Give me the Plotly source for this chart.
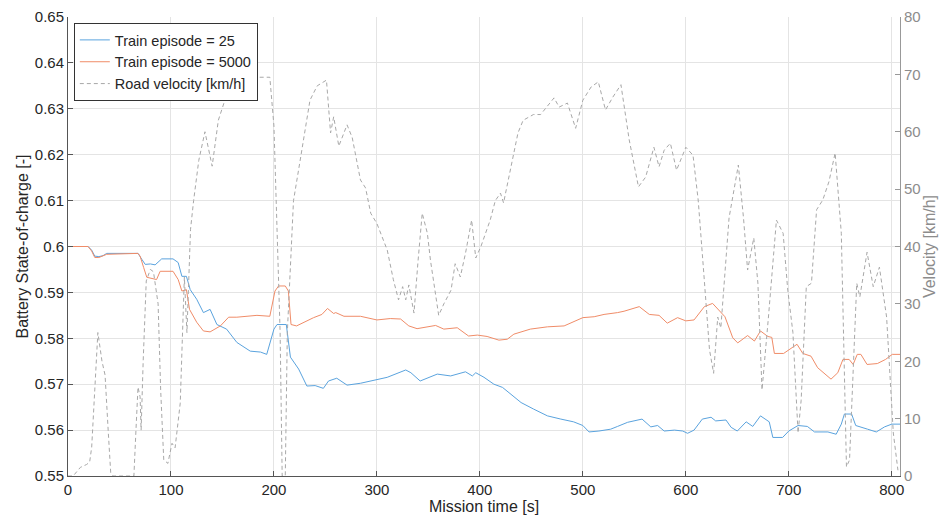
import plotly.graph_objects as go

# ---- data ----
vel_t = [0, 5, 12, 18, 21, 23, 26, 29, 33, 36, 39, 41.5, 44, 64, 66, 68, 70, 71, 73, 76, 80, 83, 87.5, 90, 93, 97, 101, 104,
         109, 113, 115.5, 119, 122, 127, 133, 140, 146, 154.5, 164, 168, 196, 200, 206, 208, 211, 213, 219, 226, 235, 242,
         251, 255, 258, 263, 271, 276, 284, 289, 294, 300, 310, 316, 321, 325, 328, 331, 336, 340, 344, 349, 352, 360, 365,
         372, 376, 381, 386, 392, 396, 401, 410, 415, 420, 423, 430, 437, 442, 452, 459, 472, 477, 485, 493, 500, 508, 515,
         522, 529, 537, 545, 554, 561, 569, 574, 579, 585, 591, 600, 607, 612, 617, 623, 627, 631, 634, 642, 651, 656, 660,
         666, 670, 674, 680, 683, 688, 694.5, 699, 704, 709, 712, 717, 722, 727, 733, 739, 745, 751, 756, 759, 766, 769, 776,
         782, 788, 795, 801.5, 806]
vel_v = [0, 0, 1.5, 2, 2.4, 5, 15, 25, 20, 17.6, 8, 0.5, 0, 0, 8, 15.5, 13.8, 8, 20, 34, 36, 35.6, 30, 15, 2.8, 2.2, 5.7, 4.9,
         12.7, 34.7, 25, 43, 48, 55, 60, 54, 62, 66.7, 69.5, 69.5, 69.5, 61, 25, 0, 0, 25, 48, 55.6, 65.5, 68,
         69, 59.8, 62.6, 57.5, 61.2, 59, 51.6, 50.2, 45.8, 44, 39.4, 34.2, 30.7, 33, 30.7, 33.3, 28.4, 37.6, 45.8, 42.3, 37.6, 28, 30,
         32.4, 37, 34.7, 38.8, 44.6, 38, 40, 44.6, 48, 49.3, 47.6, 53.9, 59.8, 62, 63, 63, 65.9, 64.3, 65, 60.6, 65.5, 67.8, 68.7,
         63.8, 66, 68.2, 58.6, 50.4, 52.1, 57.3, 53.9, 56.8, 58, 53.3, 57.3, 55.9, 48.1, 36.4, 22, 17.9, 27.7, 25.8, 45, 54.2, 45, 35.9,
         41.5, 33.6, 15, 27.2, 33.6, 44.6, 42.3, 32.4, 25, 7.5, 13.2, 33, 33.6, 46.4, 48.1, 51.3, 56.3, 42.3, 1.6, 2.8, 33.6, 31.2, 39,
         33, 36.4, 27.7, 7.5, 1]

ep25_t = [0, 19.5, 23, 26, 30, 34, 37.6, 68, 71.7, 75, 80, 84.6, 91, 102, 107, 110.6, 115, 118.7, 125, 131.5, 138, 144.6, 154,
          164, 177, 187, 193, 200, 203, 212, 216, 224, 232, 240, 248, 253, 261, 271, 284, 300, 310, 328, 333, 342, 358.6, 371.6,
          386, 392.7, 396, 404, 413.6, 422, 433, 440, 452, 465.6, 478.6, 491, 500, 506, 515.6, 527, 533.7, 543.5, 557.5, 566,
          572.6, 579, 589, 597, 601.7, 608, 616, 624.5, 629, 639, 644, 650, 658.6, 665, 672.5, 681, 684.5, 694, 700, 709, 718,
          725, 738, 746, 751, 754, 761, 765, 776.5, 785, 793, 800, 808]
ep25_soc = [0.6, 0.6, 0.5992, 0.5979, 0.5978, 0.598, 0.5985, 0.5985, 0.5972, 0.5961, 0.5962, 0.596, 0.5973, 0.5973, 0.5965,
            0.5935, 0.5935, 0.5906, 0.5885, 0.5856, 0.5863, 0.583, 0.582, 0.5791, 0.5772, 0.577, 0.5765, 0.582, 0.583, 0.583,
            0.5759, 0.5733, 0.5696, 0.5697, 0.5691, 0.5707, 0.5713, 0.5698, 0.5702, 0.5711, 0.5715, 0.5731, 0.5725, 0.5707,
            0.5722, 0.5718, 0.5727, 0.5718, 0.5725, 0.5715, 0.57, 0.5693, 0.5672, 0.566, 0.5646, 0.5631, 0.5624, 0.5618, 0.561,
            0.5596, 0.5598, 0.5602, 0.5608, 0.5617, 0.5624, 0.5607, 0.561, 0.5598, 0.56, 0.5598, 0.5593, 0.56, 0.5624, 0.5628,
            0.562, 0.5622, 0.5606, 0.5598, 0.5618, 0.5608, 0.5631, 0.5618, 0.5584, 0.5584, 0.5598, 0.561, 0.5608, 0.5596,
            0.5596, 0.5591, 0.5613, 0.5635, 0.5635, 0.561, 0.5602, 0.5596, 0.5607, 0.5613, 0.5613]

ep5000_t = [0, 19.5, 23, 26, 30, 34, 37.6, 68, 70, 73.5, 76.5, 86, 89.5, 102, 107, 110.6, 115, 118, 125, 131.5, 138, 148, 156,
            164, 174, 183.5, 196, 201, 204.5, 211, 214, 216.6, 222, 229, 238.5, 246.6, 252, 258, 260, 268, 284, 300, 313, 323,
            331, 339, 357, 365, 378, 389, 397.5, 407, 418.5, 426.6, 433, 449, 465.6, 481.8, 500, 511, 520.6, 533.7, 540, 554.8,
            564.5, 574, 582, 592, 600, 608, 618, 626, 631, 638, 645.6, 650.4, 660, 666.6, 672.5, 679.6, 683.5, 686, 695, 702,
            708, 713.6, 721.6, 728, 735, 741, 747.6, 752.6, 758.6, 762.5, 766.5, 770, 776, 786, 794, 800.5, 808]
ep5000_soc = [0.6, 0.6, 0.599, 0.5976, 0.5976, 0.598, 0.5983, 0.5985, 0.5979, 0.5954, 0.5933, 0.5928, 0.5946, 0.5946, 0.5928,
              0.5903, 0.5906, 0.5863, 0.5835, 0.5816, 0.5814, 0.5827, 0.5846, 0.5846, 0.5848, 0.585, 0.5848, 0.5903, 0.5914,
              0.5914, 0.5903, 0.583, 0.5827, 0.5835, 0.5845, 0.5852, 0.5865, 0.5854, 0.5856, 0.5848, 0.5848, 0.584, 0.5843,
              0.5842, 0.5827, 0.5821, 0.5828, 0.582, 0.5823, 0.5805, 0.5807, 0.5804, 0.5796, 0.5798, 0.5809, 0.582, 0.5825,
              0.5827, 0.5845, 0.5847, 0.5852, 0.5856, 0.5859, 0.5869, 0.5852, 0.585, 0.5833, 0.5845, 0.5838, 0.584, 0.5869,
              0.5876, 0.5863, 0.5847, 0.5801, 0.579, 0.5806, 0.5794, 0.5816, 0.5804, 0.5802, 0.5767, 0.5767, 0.5778, 0.5787,
              0.5767, 0.5761, 0.5736, 0.5722, 0.5711, 0.5725, 0.5754, 0.5754, 0.5743, 0.5765, 0.5765, 0.5743, 0.5745, 0.5754,
              0.5765, 0.5765]

x_ticks = [0, 100, 200, 300, 400, 500, 600, 700, 800]
soc_ticks = [0.55, 0.56, 0.57, 0.58, 0.59, 0.6, 0.61, 0.62, 0.63, 0.64, 0.65]
soc_tick_text = ["0.55", "0.56", "0.57", "0.58", "0.59", "0.6", "0.61", "0.62", "0.63", "0.64", "0.65"]
vel_ticks = [0, 10, 20, 30, 40, 50, 60, 70, 80]

BLUE = "#5aa3de"
ORANGE = "#f08c68"
GREY = "#a8a8a8"
FONT = "Arial"

fig = go.Figure()
fig.add_trace(go.Scatter(x=vel_t, y=vel_v, mode="lines", name="Road velocity [km/h]", yaxis="y2",
                         line=dict(color=GREY, width=1, dash="4px,3px"), legendrank=3))
fig.add_trace(go.Scatter(x=ep25_t, y=ep25_soc, mode="lines", name="Train episode = 25",
                         line=dict(color=BLUE, width=1), legendrank=1))
fig.add_trace(go.Scatter(x=ep5000_t, y=ep5000_soc, mode="lines", name="Train episode = 5000",
                         line=dict(color=ORANGE, width=1), legendrank=2))

# page has an 8px body margin, so figure coordinates are shifted by 8px
fig.update_layout(
    width=949, height=525,
    margin=dict(l=60, r=57, t=9, b=57, autoexpand=False),
    paper_bgcolor="white", plot_bgcolor="white",
    font=dict(family=FONT, size=15, color="#262626"),
    showlegend=True,
    legend=dict(x=0.007, y=0.987, xanchor="left", yanchor="top", bgcolor="white",
                bordercolor="#333333", borderwidth=1, font=dict(size=14.5, color="#262626"),
                tracegroupgap=0, itemwidth=30),
    xaxis=dict(range=[0, 808], tickvals=x_ticks, showgrid=True, gridcolor="#e4e4e4", gridwidth=1,
               showline=True, linecolor="#555555", linewidth=1, ticks="inside", ticklen=5, tickcolor="#555555",
               zeroline=False, automargin=False, tickfont=dict(size=15, color="#262626"),
               title=dict(text="Mission time [s]", font=dict(size=16, color="#262626"), standoff=2)),
    yaxis=dict(range=[0.55, 0.65], tickvals=soc_ticks, ticktext=soc_tick_text, showgrid=True,
               gridcolor="#e4e4e4", gridwidth=1, showline=True, linecolor="#555555", linewidth=1,
               ticks="inside", ticklen=5, tickcolor="#555555", zeroline=False, automargin=False,
               tickfont=dict(size=15, color="#262626"),
               title=dict(text="Battery State-of-charge [-]", font=dict(size=16, color="#262626"), standoff=2)),
    yaxis2=dict(range=[0, 80], tickvals=vel_ticks, overlaying="y", side="right", showgrid=False,
                showline=True, linecolor="#999999", linewidth=1, ticks="inside", ticklen=5, tickcolor="#999999",
                zeroline=False, automargin=False, tickfont=dict(size=15, color="#8c8c8c"),
                title=dict(text="Velocity [km/h]", font=dict(size=16, color="#8c8c8c"), standoff=3)),
)

fig.write_html("out.html")
